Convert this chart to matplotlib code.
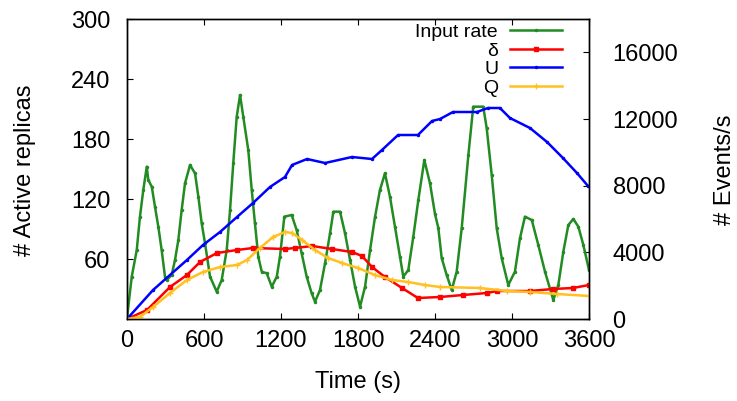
import matplotlib
matplotlib.use("Agg")
import matplotlib.pyplot as plt

plt.rcParams["font.family"] = ["Liberation Sans", "DejaVu Sans"]

# input rate (events/s, right axis)
rate_t = [0, 37, 76, 101, 127, 154, 166, 193, 218, 244, 270, 296, 309, 348, 374, 400,
          426, 452, 491, 530, 556, 582, 608, 647, 699, 738, 777, 803, 828, 855, 881,
          906, 945, 972, 997, 1023, 1050, 1089, 1128, 1167, 1192, 1226, 1283, 1322,
          1361, 1400, 1439, 1465, 1504, 1543, 1582, 1608, 1660, 1699, 1738, 1777,
          1816, 1855, 1894, 1933, 1971, 2010, 2049, 2088, 2127, 2153, 2192, 2231,
          2270, 2317, 2361, 2400, 2426, 2452, 2491, 2530, 2569, 2608, 2660, 2698,
          2776, 2803, 2842, 2881, 2920, 2971, 3023, 3062, 3101, 3154, 3205, 3257,
          3322, 3361, 3400, 3439, 3478, 3517, 3556, 3600]
rate_v = [60, 2540, 4140, 6140, 7740, 9140, 8340, 7940, 6740, 5540, 4140, 2540, 2340,
          2640, 3540, 4740, 6540, 8140, 9240, 8740, 7340, 5740, 4540, 2540, 1640, 2340,
          4140, 6540, 9340, 12140, 13440, 12140, 10140, 7740, 5740, 3740, 2840, 2740,
          1940, 2540, 3740, 6140, 6240, 5340, 3940, 2540, 1540, 1040, 1740, 3340, 5140,
          6440, 6440, 5140, 3540, 1940, 740, 1940, 4140, 6140, 7740, 8740, 7340, 5540,
          3740, 2540, 2940, 4940, 7140, 9540, 8140, 6300, 5460, 3660, 2640, 1740, 2840,
          5440, 9840, 12740, 12740, 11440, 8640, 5440, 3640, 2040, 2840, 4840, 6140,
          5940, 4440, 2840, 1140, 2040, 4040, 5640, 6000, 5540, 4440, 2940]

# delta (active replicas)
delta_t = [0, 156, 335, 467, 569, 701, 857, 982, 1231, 1309, 1442, 1597, 1753, 1831,
           1909, 2010, 2143, 2267, 2439, 2618, 2805, 2883, 3140, 3319, 3475, 3600]
delta_v = [0, 9, 32, 44, 57, 66, 69, 71, 70, 71, 73, 70, 67, 63, 52, 42, 31, 21, 22,
           24, 26, 28, 28, 30, 31, 34]

# U (active replicas)
u_t = [0, 203, 467, 592, 725, 857, 982, 1114, 1231, 1286, 1403, 1543, 1753, 1909,
       1987, 2112, 2267, 2377, 2439, 2540, 2727, 2813, 2906, 2984, 3140, 3273, 3397,
       3506, 3592]
u_v = [0, 29, 59, 74, 87, 102, 116, 132, 142, 154, 160, 156, 162, 160, 169, 184, 184,
       198, 200, 207, 207, 211, 211, 201, 191, 177, 161, 146, 133]

# Q (active replicas)
q_t = [0, 101, 203, 335, 467, 592, 725, 857, 935, 1036, 1138, 1231, 1286, 1364, 1465,
       1566, 1675, 1800, 1932, 2065, 2190, 2322, 2439, 2751, 2961, 3140, 3350, 3600]
q_v = [0, 2, 12, 26, 39, 47, 52, 54, 59, 71, 82, 87, 86, 79, 69, 61, 56, 51, 44, 39, 37,
       34, 32, 31, 28, 27, 25, 23]

fig = plt.figure(figsize=(7.37, 4.01), dpi=100)
ax = fig.add_axes([127 / 737, 82 / 401, 462 / 737, 300 / 401])
ax2 = ax.twinx()
ax.set_zorder(ax2.get_zorder() + 1)
ax.patch.set_visible(False)

lw = 1.8
g, = ax2.plot(rate_t, rate_v, color="#228B22", lw=lw, marker=".", ms=3, label="Input rate")
d, = ax.plot(delta_t, delta_v, color="#FF0000", lw=lw, marker="s", ms=2.5, label="δ")
u, = ax.plot(u_t, u_v, color="#0000FF", lw=lw, marker=".", ms=3, label="U")
q, = ax.plot(q_t, q_v, color="#FFC020", lw=lw, marker="+", ms=4, label="Q")

ax.set_xlim(0, 3600)
ax.set_ylim(0, 300)
ax2.set_ylim(0, 18000)
ax.set_xticks(range(0, 3601, 600))
ax.set_yticks(range(0, 301, 60))
ax.set_yticklabels([""] + [str(v) for v in range(60, 301, 60)])
ax2.set_yticks(range(0, 16001, 4000))

fs = 17
ax.tick_params(axis="x", direction="in", top=True, length=4.5, labelsize=fs, pad=8)
ax.tick_params(axis="y", direction="in", length=4.5, labelsize=fs, pad=12)
ax2.tick_params(axis="y", direction="in", length=4.5, labelsize=fs, pad=17)
for a in (ax, ax2):
    for s in a.spines.values():
        s.set_linewidth(1.0)

fig.text(358 / 737, 1 - 382 / 401, "Time (s)", ha="center", va="center", fontsize=fs)
fig.text(25 / 737, 1 - 170 / 401, "# Active replicas", ha="center", va="center",
         rotation=90, fontsize=fs)
fig.text(725 / 737, 1 - 170 / 401, "# Events/s", ha="center", va="center",
         rotation=90, fontsize=fs)

ax.legend(handles=[g, d, u, q], loc="upper right", bbox_to_anchor=(0.942, 0.985),
          frameon=False, markerfirst=False, fontsize=14, labelspacing=0.05,
          handlelength=2.7, handletextpad=0.6, borderpad=0, borderaxespad=0)

fig.savefig("out.png", dpi=100)
